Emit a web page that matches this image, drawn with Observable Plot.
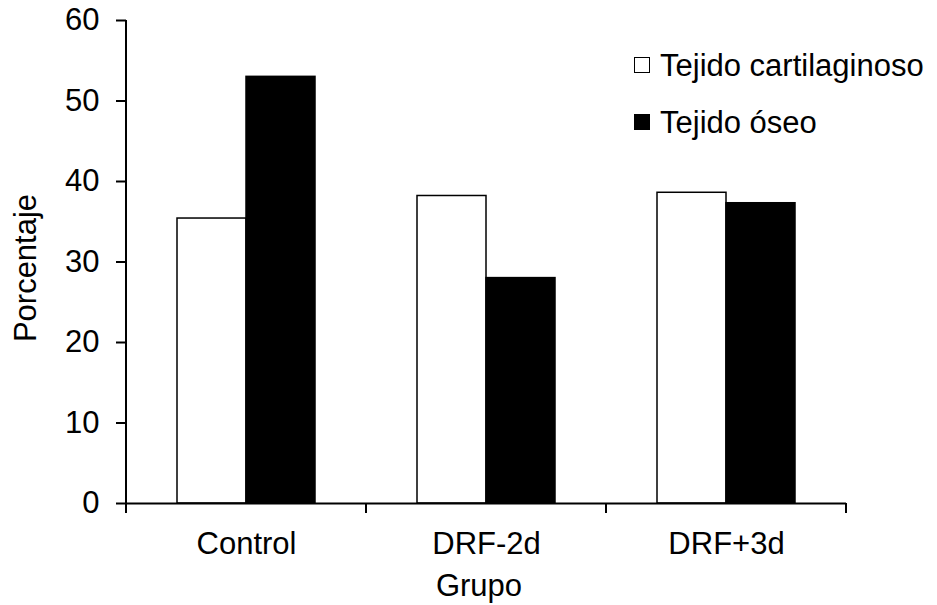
<!DOCTYPE html>
<html><head><meta charset="utf-8">
<script src="https://cdn.jsdelivr.net/npm/d3@7"></script>
<script src="https://cdn.jsdelivr.net/npm/@observablehq/plot@0.6"></script>
<style>
body{margin:0;background:#fff;font-family:"Liberation Sans",Arial,sans-serif;}
#wrap{position:relative;width:937px;height:605px;}
.legend{position:absolute;left:634px;top:36.5px;font-size:31px;color:#000;line-height:1;}
.row{display:flex;align-items:center;height:57px;white-space:nowrap;}
.sw{width:16px;height:16px;box-sizing:border-box;border:1.5px solid #000;margin-right:10px;flex:none;}
</style></head><body><div id="wrap"></div>
<script>
const groups = ["Control", "DRF-2d", "DRF+3d"];
const series = ["Tejido cartilaginoso", "Tejido óseo"];
const cartilaginoso = [35.4, 38.2, 38.6];
const oseo = [53.0, 28.0, 37.3];
const yTicks = [0, 10, 20, 30, 40, 50, 60];
const seriesFill = ["#ffffff", "#000000"];
const xTitle = "Grupo";
const yTitle = "Porcentaje";

const data = groups.flatMap((g, i) => [
  {group: g, series: series[0], value: cartilaginoso[i]},
  {group: g, series: series[1], value: oseo[i]}
]);

const plot = Plot.plot({
  width: 937, height: 605,
  marginLeft: 125, marginRight: 91, marginTop: 20, marginBottom: 102,
  style: {fontFamily: "Liberation Sans, Arial, sans-serif", fontSize: "31px", color: "#000", background: "#fff"},
  fx: {domain: groups, padding: 0, label: null},
  x: {domain: series, paddingInner: 0, paddingOuter: 0.739, axis: null},
  y: {domain: [0, 60], label: null},
  color: {domain: series, range: seriesFill},
  marks: [
    Plot.barY(data, {fx: "group", x: "series", y: "value", fill: "series", stroke: "#000", strokeWidth: 1.5}),
    Plot.ruleY([0], {stroke: "#000", strokeWidth: 2}),
    Plot.axisY({anchor: "left", ticks: yTicks, tickSize: 10, tickPadding: 17, strokeWidth: 2, fontSize: 31, label: null}),
    Plot.axisFx({anchor: "bottom", tickSize: 0, tickPadding: 28, fontSize: 31, label: null})
  ]
});

document.getElementById("wrap").appendChild(plot);

// axis line, band-edge ticks and axis titles drawn from the plot's own scales
const svg = d3.select(plot.tagName.toLowerCase() === "svg" ? plot : plot.querySelector("svg"));
const fxS = plot.scale("fx"), yS = plot.scale("y");
const band = fxS.apply ? (g) => fxS.apply(g) : (g) => fxS.range[0] + groups.indexOf(g) * (fxS.range[1] - fxS.range[0]) / groups.length;
const bw = fxS.bandwidth != null ? fxS.bandwidth : (fxS.range[1] - fxS.range[0]) / groups.length;
const yf = yS.apply ? (v) => yS.apply(v) : d3.scaleLinear(yS.domain, yS.range);
const edges = groups.map(band).concat([band(groups[groups.length - 1]) + bw]);
const g = svg.append("g").attr("stroke", "#000").attr("stroke-width", 2);
g.append("line").attr("x1", edges[0]).attr("x2", edges[0]).attr("y1", yf(60)).attr("y2", yf(0));
edges.forEach(x => g.append("line").attr("x1", x).attr("x2", x).attr("y1", yf(0)).attr("y2", yf(0) + 10));
svg.append("text").attr("transform", "translate(36,268) rotate(-90)").attr("text-anchor", "middle")
  .attr("font-size", 31).attr("fill", "#000").text(yTitle);
svg.append("text").attr("x", 479).attr("y", 596).attr("text-anchor", "middle")
  .attr("font-size", 31).attr("fill", "#000").text(xTitle);

// legend
const leg = d3.select("#wrap").append("div").attr("class", "legend");
series.forEach((s, i) => {
  const r = leg.append("div").attr("class", "row");
  r.append("div").attr("class", "sw").style("background", seriesFill[i]);
  r.append("span").text(s);
});
</script></body></html>
